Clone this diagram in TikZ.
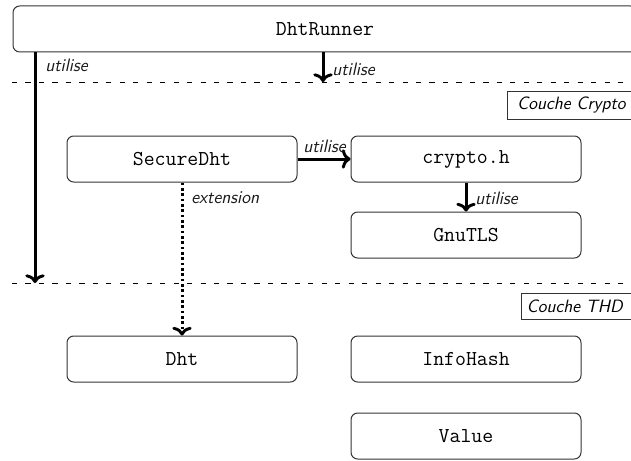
\documentclass[tikz,border=0pt]{standalone}
\usepackage{fontspec}
\usetikzlibrary{arrows.meta}
\begin{document}
\begin{tikzpicture}[x=0.75pt,y=-0.75pt,
  box/.style={draw=black!80,line width=0.75pt,rounded corners=5pt,minimum height=34.5pt,inner sep=0pt,font=\fontsize{15.9}{18}\ttfamily,fill=white},
  wide/.style={box,minimum width=172.5pt},
  layer/.style={draw=black!80,line width=0.6pt,fill=white,inner sep=0pt,font=\fontsize{13.4}{15}\sffamily\itshape},
  lab/.style={font=\fontsize{13.5}{15}\sffamily\itshape,inner sep=0pt,text=black!90},
  sep/.style={line width=0.75pt,dash pattern=on 3.9pt off 6.2pt},
  uses/.style={line width=2.25pt,-{To[length=6.5pt,width=14.5pt,line width=2.2pt]}},
  ext/.style={line width=2.25pt,dash pattern=on 2pt off 2pt,-{To[length=6.5pt,width=14.5pt,line width=2.2pt]}}]
\useasboundingbox (0,0) rectangle (631,460);
\clip (0,0) rectangle (631,460);
\node[box,minimum width=468pt] (runner) at (325,29) {DhtRunner};
\node[wide] (secure) at (182,159) {SecureDht};
\node[wide] (crypto) at (466,159) {crypto.h};
\node[wide] (gnutls) at (466,235) {GnuTLS};
\node[wide] (dht) at (182,359) {Dht};
\node[wide] (infohash) at (466,359) {InfoHash};
\node[wide] (value) at (466,436) {Value};
\coordinate (s1l) at (12,82); \coordinate (s1r) at (631,82);
\coordinate (s2l) at (12,283); \coordinate (s2r) at (631,283);
\coordinate (u1) at (35,283); \coordinate (u2) at (323,82);
\draw[sep] (s1l) -- (s1r);
\draw[sep] (s2l) -- (s2r);
\draw[uses] (runner.south -| u1) -- (u1);
\draw[uses] (runner.south -| u2) -- (u2);
\draw[uses] (secure) -- (crypto);
\draw[uses] (crypto) -- (gnutls);
\draw[ext] (secure) -- (dht);
\node[lab,anchor=west] (l1) at (45,65) {utilise};
\node[lab,anchor=west] (l2) at (332,69) {utilise};
\node[lab,anchor=west] (l3) at (303,146) {utilise};
\node[lab,anchor=west] (l4) at (475,198) {utilise};
\node[lab,anchor=west] (l5) at (191,198) {extension};
\node[layer,minimum width=93pt,minimum height=21pt,anchor=north west] (crypt) at (507,91) {\hspace*{3pt}Couche Crypto};
\node[layer,minimum width=83pt,minimum height=19.5pt,anchor=north west] (thd) at (521,293) {\hspace*{-3pt}Couche THD};
\end{tikzpicture}
\end{document}
